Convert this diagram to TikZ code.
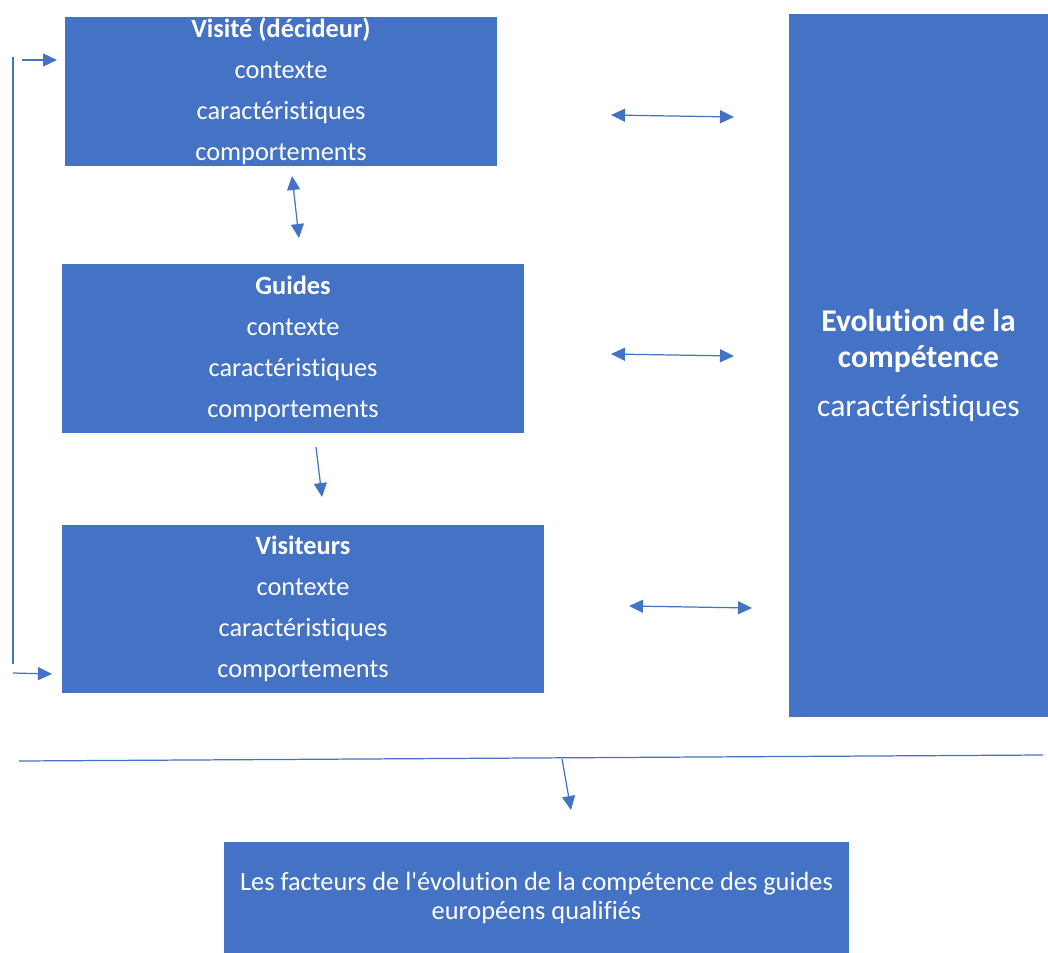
\documentclass[tikz,border=0pt]{standalone}
\usepackage{fontspec}
\setmainfont{Carlito}[Ligatures={NoCommon}]
\usetikzlibrary{arrows.meta}
\definecolor{boxblue}{HTML}{4472C4}
\tikzset{
    bloc/.style={fill=boxblue, text=white, align=center, inner sep=0pt,
        font=\fontsize{15pt}{23.3pt}\selectfont},
    trait/.style={draw=boxblue, line width=0.7pt},
    fleche/.style={trait, -{Triangle[length=0.28cm,width=0.26cm]}},
    double fleche/.style={trait, {Triangle[length=0.28cm,width=0.26cm]}-{Triangle[length=0.28cm,width=0.26cm]}}
}
\begin{document}
\begin{tikzpicture}[x=0.02cm, y=-0.02cm]
    \useasboundingbox (0,0) rectangle (1048,953);

    % les blocs
    \node[bloc, minimum width=8.64cm, minimum height=2.98cm] (visite) at (281,91.5)
        {\textbf{Visité (décideur)}\\contexte\\caractéristiques\\comportements};
    \node[bloc, minimum width=9.24cm, minimum height=3.38cm] (guides) at (293,348.5)
        {\textbf{Guides}\\contexte\\caractéristiques\\comportements};
    \node[bloc, minimum width=9.64cm, minimum height=3.36cm] (visiteurs) at (303,609)
        {\textbf{Visiteurs}\\contexte\\caractéristiques\\comportements};
    \node[bloc, minimum width=5.18cm, minimum height=14.06cm,
        font=\fontsize{18pt}{20pt}\selectfont] (evolution) at (918.5,365.5)
        {\textbf{Evolution de la}\\\textbf{compétence}\\[8pt]
         caractéristiques};
    \node[bloc, minimum width=12.5cm, minimum height=2.22cm,
        font=\fontsize{15pt}{16.5pt}\selectfont] (facteurs) at (536.5,897.5)
        {Les facteurs de l\textquotesingle évolution de la compétence des guides\\européens qualifiés};

    % les points des liaisons
    \coordinate (v1) at (611,115);   \coordinate (e1) at (734,117);
    \coordinate (g1) at (611,354);   \coordinate (e2) at (734,356);
    \coordinate (s1) at (629,606);   \coordinate (e3) at (752,608);
    \coordinate (vb) at (292,176);   \coordinate (gh) at (299,238);
    \coordinate (gb) at (316,447);   \coordinate (sh) at (322,497);
    \coordinate (bh) at (13,57);     \coordinate (bb) at (13,664);
    \coordinate (ah) at (22,60);     \coordinate (aht) at (57,60);
    \coordinate (ab) at (13,673);    \coordinate (abt) at (52,674);
    \coordinate (lg) at (19,761);    \coordinate (ld) at (1043,755);
    \coordinate (lm) at (562,759);   \coordinate (fh) at (571,810);

    % les liaisons
    \draw[double fleche] (v1) -- (e1);
    \draw[double fleche] (g1) -- (e2);
    \draw[double fleche] (s1) -- (e3);
    \draw[double fleche] (vb) -- (gh);
    \draw[fleche] (gb) -- (sh);
    \draw[trait] (bh) -- (bb);
    \draw[fleche] (ah) -- (aht);
    \draw[fleche] (ab) -- (abt);
    \draw[trait] (lg) -- (ld);
    \draw[fleche] (lm) -- (fh);
\end{tikzpicture}
\end{document}
